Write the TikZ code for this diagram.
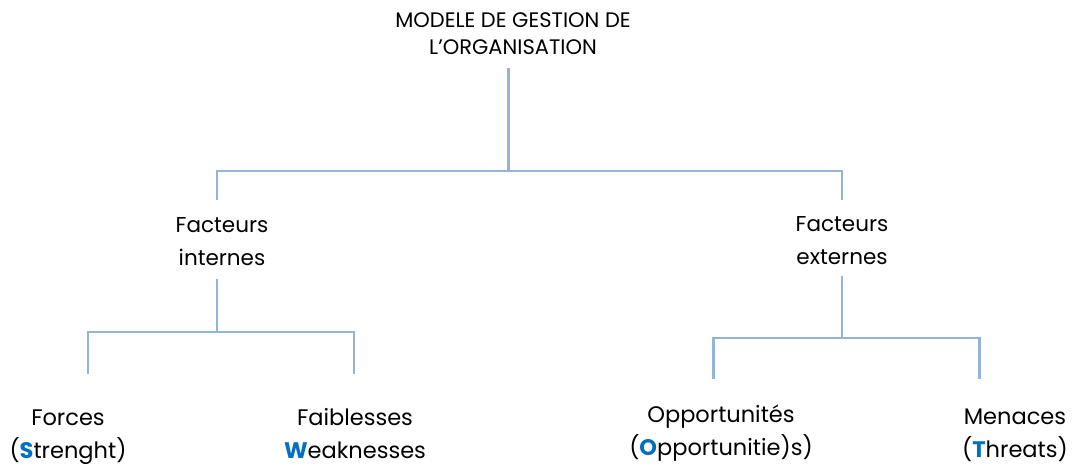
\documentclass[tikz,border=0pt]{standalone}
\usepackage{fontspec}
\setmainfont{Poppins}
\definecolor{linec}{HTML}{95B3D7}
\definecolor{initc}{HTML}{0070C0}
\newcommand{\ini}[1]{\textcolor{initc}{\bfseries #1}}
\begin{document}
\begin{tikzpicture}[x=1pt,y=-1pt,
  conn/.style={draw=linec,line width=2.2pt,line cap=rect},
  toptext/.style={align=center,inner sep=0pt,anchor=base,font=\fontsize{21}{27}\selectfont},
  midtext/.style={align=center,inner sep=0pt,anchor=base,font=\fontsize{21.5}{33}\selectfont},
  bottext/.style={align=center,inner sep=0pt,anchor=base,font=\fontsize{22.5}{33}\selectfont}]
\useasboundingbox (0,0) rectangle (1078,469);
\node[toptext] (root) at (513,54) {MODELE DE GESTION DE\\L’ORGANISATION};
\node[midtext] (int) at (222,265) {Facteurs\\internes};
\node[midtext] (ext) at (842,264) {Facteurs\\externes};
\node[bottext] (str) at (68,458) {Forces\\(\ini{S}trenght)};
\node[bottext] (weak) at (355,458) {Faiblesses\\\ini{W}eaknesses};
\node[bottext] (opp) at (721,455) {Opportunités\\(\ini{O}pportunitie)s)};
\node[bottext] (thr) at (1015,457) {Menaces\\(\ini{T}hreats)};
% junction coordinates
\coordinate (r0) at (508.5,69);
\coordinate (r1) at (508.5,171);
\coordinate (iL) at (217,171);
\coordinate (iT) at (217,199);
\coordinate (eR) at (842,171);
\coordinate (eT) at (842,199);
\coordinate (i0) at (217,280);
\coordinate (i1) at (217,332);
\coordinate (sT) at (88,373);
\coordinate (wT) at (354,373);
\coordinate (e0) at (842,277);
\coordinate (e1) at (842,338);
\coordinate (oT) at (713.5,378);
\coordinate (tT) at (979.5,378);
\draw[conn] (r0) -- (r1);
\draw[conn] (iT) |- (eR) -- (eT);
\draw[conn] (i0) -- (i1);
\draw[conn] (sT) |- (i1) -| (wT);
\draw[conn] (e0) -- (e1);
\draw[conn] (oT) |- (e1) -| (tT);
\end{tikzpicture}
\end{document}
